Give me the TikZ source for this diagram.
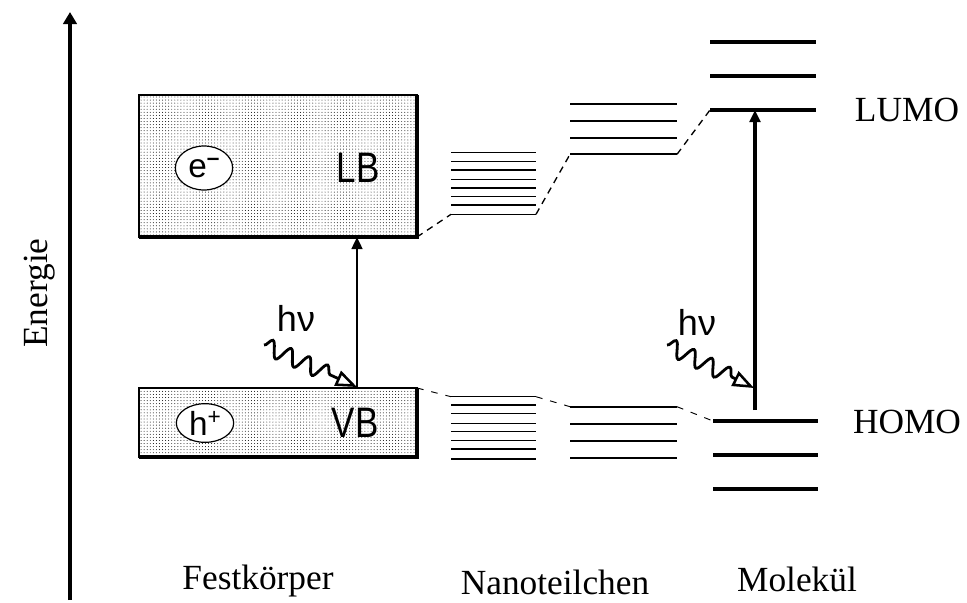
\documentclass[tikz,border=0pt]{standalone}
\usepackage{fontspec}
\setmainfont{Liberation Serif}
\setsansfont{Liberation Sans}
\usetikzlibrary{arrows.meta,decorations.pathmorphing,patterns.meta,shapes.geometric}
\begin{document}
\begin{tikzpicture}[x=0.75pt,y=-0.75pt,
  serif/.style={font=\fontsize{26.5}{26.5}\selectfont},
  bandlabel/.style={font=\sffamily\fontsize{32}{32}\selectfont, xscale=0.82},
  carrier/.style={ellipse, draw, line width=0.9pt, fill=white, inner sep=0pt,
    minimum width=43pt, minimum height=33pt, font=\sffamily\fontsize{25}{25}\selectfont},
  bandbox/.style={pattern={Dots[distance=2.3pt, radius=0.36pt]}, draw, line width=1.2pt},
  boxshadow/.style={line width=2.3pt},
  molevel/.style={line width=3.2pt},
  nanolevel/.style={line width=1.1pt},
  nanolevelb/.style={line width=1.6pt},
  link/.style={line width=1pt, dash pattern=on 5pt off 4pt},
  linkthin/.style={line width=0.7pt, dash pattern=on 5pt off 6pt},
  excite/.style={line width=2.8pt, -{Triangle[length=9pt, width=8pt]}},
  photon/.style={line width=2.1pt, decorate,
    decoration={snake, amplitude=6pt, segment length=15pt, post length=15pt},
    -{Triangle[open, length=16pt, width=12pt, line width=1.9pt]}},
  photlabel/.style={font=\sffamily\fontsize{27}{27}\selectfont}
]
\useasboundingbox (0,0) rectangle (967,603);

% energy axis
\coordinate (axb) at (70,600);
\coordinate (axt) at (70,12);
\draw[line width=2.5pt, -{Triangle[length=9pt, width=10pt]}] (axb) -- (axt);
\node[serif, rotate=90] (energie) at (40,293) {Energie};

% Festkoerper boxes
\coordinate (LBnw) at (139,95);
\coordinate (LBse) at (417,237);
\coordinate (LBsw) at (139,237);
\coordinate (LBne) at (417,95);
\draw[bandbox] (LBnw) rectangle (LBse);
\draw[boxshadow] (LBsw) -- (LBse) -- (LBne);
\coordinate (VBnw) at (139,388);
\coordinate (VBse) at (417,457);
\coordinate (VBsw) at (139,457);
\coordinate (VBne) at (417,388);
\draw[bandbox] (VBnw) rectangle (VBse);
\draw[boxshadow] (VBsw) -- (VBse) -- (VBne);

\node[bandlabel] (LB) at (358,168) {LB};
\node[bandlabel] (VB) at (355,423) {VB};
\node[carrier] (em) at (204,168) {e\raisebox{0.36em}{\fontsize{17}{17}\selectfont\bfseries –}};
\node[carrier, minimum height=29pt] (hp) at (205,423) {h\raisebox{0.32em}{\fontsize{17}{17}\selectfont +}};

% excitation in solid
\coordinate (fa) at (357,388);
\coordinate (fb) at (357,237);
\draw[excite, line width=1.8pt] (fa) -- (fb);
\coordinate (w1s) at (264,345);
\coordinate (w1e) at (357,387);
\draw[photon] (w1s) -- (w1e);
\node[photlabel] (hv1) at (296,318) {hν};

% nanoparticle levels: upper left group
\foreach \y [count=\i] in {152.7,161.3,170,179.3,188,196.7,205,214.3}{
  \coordinate (nl\i w) at (451,\y);
  \coordinate (nl\i e) at (536,\y);
  \draw[nanolevel] (nl\i w) -- (nl\i e);
}
% upper right group
\foreach \y [count=\i] in {104,121,138.3,154.3}{
  \coordinate (nr\i w) at (570,\y);
  \coordinate (nr\i e) at (677,\y);
  \draw[nanolevelb] (nr\i w) -- (nr\i e);
}
% lower left group
\foreach \y [count=\i] in {396.7,405,413.3,423.3,431.7,440.7,449,459}{
  \coordinate (ml\i w) at (451,\y);
  \coordinate (ml\i e) at (536,\y);
  \draw[nanolevel] (ml\i w) -- (ml\i e);
}
% lower right group
\foreach \y [count=\i] in {406.7,424,441,458}{
  \coordinate (mr\i w) at (570,\y);
  \coordinate (mr\i e) at (677,\y);
  \draw[nanolevelb] (mr\i w) -- (mr\i e);
}

% molecule levels
\foreach \y [count=\i] in {42,76,110}{
  \coordinate (lu\i w) at (710,\y);
  \coordinate (lu\i e) at (816,\y);
  \draw[molevel] (lu\i w) -- (lu\i e);
}
\foreach \y [count=\i] in {421,455,489}{
  \coordinate (ho\i w) at (713,\y);
  \coordinate (ho\i e) at (818,\y);
  \draw[molevel] (ho\i w) -- (ho\i e);
}
\node[serif] (lumo) at (907,110) {LUMO};
\node[serif] (homo) at (907,422) {HOMO};

% excitation in molecule
\coordinate (ma) at (755,410);
\coordinate (mb) at (755,110);
\draw[excite] (ma) -- (mb);
\coordinate (w2s) at (667,345);
\coordinate (w2e) at (754,388);
\draw[photon] (w2s) -- (w2e);
\node[photlabel] (hv2) at (697,322) {hν};

% dashed correlations
\draw[link] (LBse) -- (nl8w);
\draw[link] (nl8e) -- (nr4w);
\draw[link] (nr4e) -- (lu3w);
\draw[linkthin] (VBne) -- (ml1w);
\draw[linkthin] (ml1e) -- (mr1w);
\draw[linkthin] (mr1e) -- (ho1w);

% column labels
\node[serif] (fest) at (258,581) {Festkörper};
\node[serif] (nano) at (555,582) {Nanoteilchen};
\node[serif] (mol) at (797,579) {Molekül};
\end{tikzpicture}
\end{document}
